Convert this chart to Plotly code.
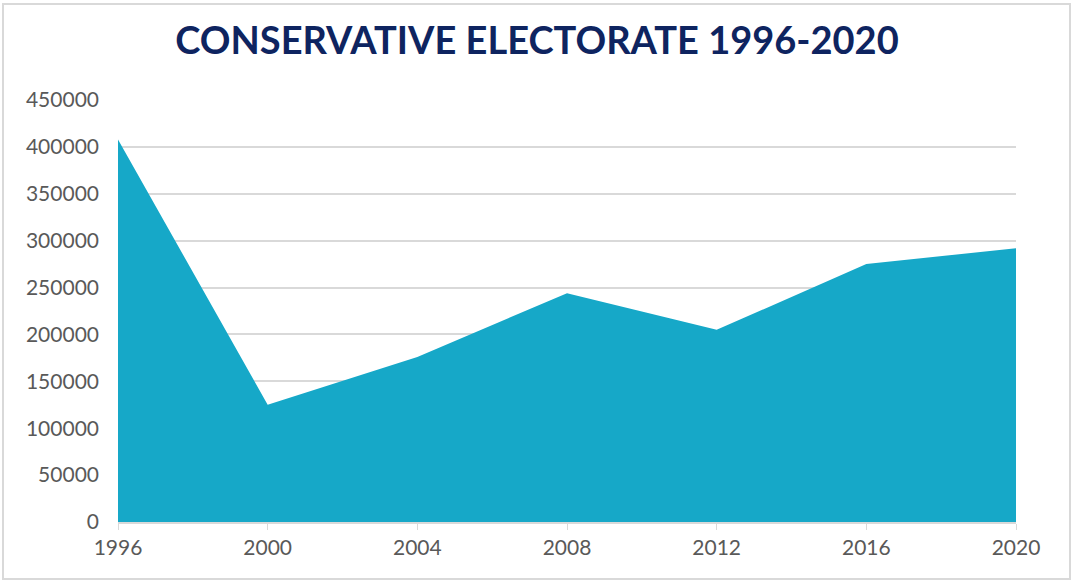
import plotly.graph_objects as go

years = [1996, 2000, 2004, 2008, 2012, 2016, 2020]
electorate = [408000, 125000, 176000, 244000, 205000, 275000, 292000]
y_ticks = [0, 50000, 100000, 150000, 200000, 250000, 300000, 350000, 400000, 450000]
title_text = "CONSERVATIVE ELECTORATE 1996-2020"

fig = go.Figure()
fig.add_trace(go.Scatter(
    x=years, y=electorate, mode="lines", fill="tozeroy",
    line=dict(color="#16A8C8", width=0), fillcolor="#16A8C8",
    showlegend=False, hoverinfo="x+y"))

W, H = 1073, 581
L, R, T, B = 118, 57, 100, 59
pw, ph = W - L - R, H - T - B

fig.update_layout(
    width=W, height=H,
    margin=dict(l=L, r=R, t=T, b=B),
    paper_bgcolor="white", plot_bgcolor="white",
    title=dict(text="<b>" + title_text + "</b>", x=537 / W, xanchor="center",
               y=1 - 41 / H, yanchor="middle",
               font=dict(family="Lato", size=38, color="#0E2460")),
    xaxis=dict(range=[1996, 2020], tickvals=years, ticktext=[str(y) for y in years],
               showgrid=False, zeroline=False, showline=True, linecolor="#D9D9D9", linewidth=2,
               ticks="outside", ticklen=6, tickcolor="#D9D9D9", tickwidth=1,
               tickfont=dict(family="Lato", size=21, color="#595959")),
    yaxis=dict(range=[0, 450000], tickvals=y_ticks, ticktext=[str(v) for v in y_ticks],
               showgrid=True, gridcolor="#D9D9D9", gridwidth=1.5, zeroline=False,
               showline=False, ticks="", ticklabelstandoff=18,
               tickfont=dict(family="Lato", size=21, color="#595959")),
    shapes=[dict(type="rect", xref="paper", yref="paper",
                 x0=(3 - L) / pw, x1=(1070 - L) / pw,
                 y0=(H - B - 579) / ph, y1=(H - B - 4) / ph,
                 line=dict(color="#D9D9D9", width=2), fillcolor="rgba(0,0,0,0)", layer="below")],
)

fig.write_html("out.html", config={"displayModeBar": False},
               post_script="document.body.style.margin='0';document.body.style.padding='0';"
                           "document.documentElement.style.overflow='hidden';")
